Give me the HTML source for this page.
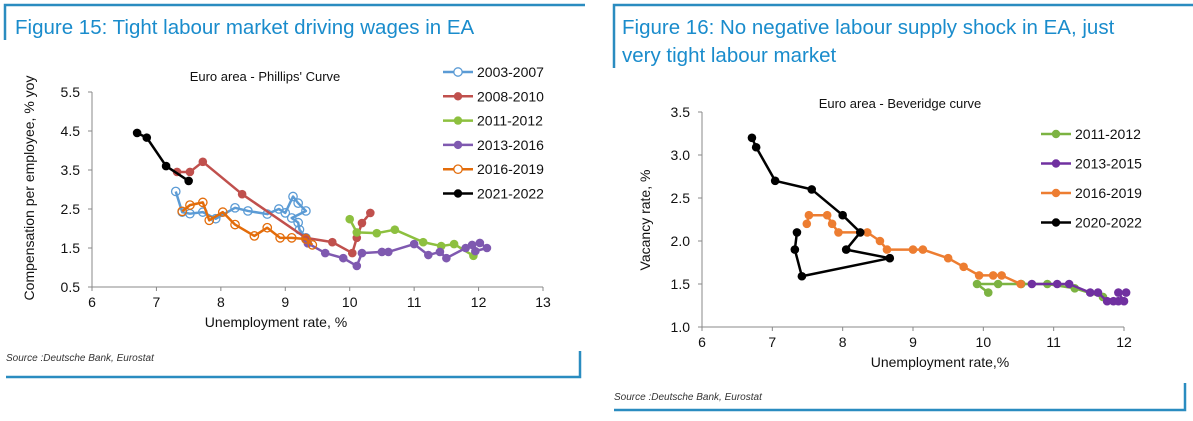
<!DOCTYPE html>
<html><head><meta charset="utf-8">
<style>
html,body{margin:0;padding:0;background:#fff;width:1193px;height:421px;overflow:hidden;font-family:"Liberation Sans",sans-serif}
svg text{font-family:"Liberation Sans",sans-serif}
</style></head><body>
<svg id="svg" width="1193" height="421" xmlns="http://www.w3.org/2000/svg">
  <g stroke="#2a8cc0" fill="none">
    <path d="M5,40 V5 H585" stroke-width="2.5"/>
    <path d="M614,68 V5 H1193" stroke-width="2.5"/>
    <path d="M6,377 H580 V351" stroke-width="2.5"/>
    <path d="M614,410 H1185 V383" stroke-width="2.5"/>
  </g>
  <text x="15" y="34" font-size="20.5" fill="#1a8ccc">Figure 15: Tight labour market driving wages in EA</text>
  <text x="622" y="34" font-size="20.5" fill="#1a8ccc">Figure 16: No negative labour supply shock in EA, just</text>
  <text x="622" y="62" font-size="20.5" fill="#1a8ccc">very tight labour market</text>
  <text x="6" y="361" font-size="10" font-style="italic" fill="#333">Source :Deutsche Bank, Eurostat</text>
  <text x="614" y="400" font-size="10" font-style="italic" fill="#333">Source :Deutsche Bank, Eurostat</text>
  <g id="c1"></g>
  <g id="c2"></g>
</svg>
<script>
// ---- Chart 1: Phillips curve ----
const c1XTicks = [6,7,8,9,10,11,12,13];
const c1YTicks = [0.5,1.5,2.5,3.5,4.5,5.5];
const c1Names = ["2003-2007","2008-2010","2011-2012","2013-2016","2016-2019","2021-2022"];
const s0307X = [7.3,7.4,7.52,7.72,7.92,8.22,8.42,8.72,8.9,9.0,9.12,9.2,9.32,9.1,9.2,9.22,9.32];
const s0307Y = [2.95,2.42,2.38,2.42,2.25,2.53,2.45,2.37,2.5,2.4,2.82,2.65,2.45,2.27,2.15,1.97,1.76];
const s0810X = [7.32,7.52,7.72,8.33,9.32,9.73,10.04,10.11,10.19,10.32];
const s0810Y = [3.45,3.45,3.71,2.88,1.76,1.65,1.37,1.76,2.14,2.4];
const s1112X = [10.0,10.11,10.42,10.7,11.14,11.42,11.62,11.92];
const s1112Y = [2.24,1.9,1.88,1.97,1.65,1.55,1.6,1.3];
const s1316X = [9.35,9.62,9.9,10.11,10.19,10.5,10.6,11.0,11.22,11.4,11.5,11.8,11.9,12.02,12.13,11.95];
const s1316Y = [1.62,1.37,1.24,1.04,1.37,1.4,1.4,1.6,1.32,1.4,1.24,1.5,1.58,1.63,1.5,1.42];
const s1619X = [7.4,7.52,7.72,7.82,8.03,8.22,8.52,8.72,8.92,9.1,9.32,9.42];
const s1619Y = [2.44,2.6,2.67,2.21,2.42,2.1,1.81,2.02,1.76,1.76,1.73,1.58];
const s2122X = [6.7,6.85,7.15,7.5];
const s2122Y = [4.45,4.33,3.6,3.22];

// ---- Chart 2: Beveridge curve ----
const c2XTicks = [6,7,8,9,10,11,12];
const c2YTicks = [1.0,1.5,2.0,2.5,3.0,3.5];
const c2Names = ["2011-2012","2013-2015","2016-2019","2020-2022"];
const b1112X = [10.07,9.91,10.21,10.54,10.91,11.3,11.7];
const b1112Y = [1.4,1.5,1.5,1.5,1.5,1.45,1.35];
const b1315X = [10.69,11.05,11.22,11.52,11.63,11.76,11.85,11.92,12.0,11.92,12.03];
const b1315Y = [1.5,1.5,1.5,1.4,1.4,1.3,1.3,1.3,1.3,1.4,1.4];
const b1619X = [7.49,7.52,7.78,7.85,7.94,8.35,8.53,8.63,9.0,9.14,9.5,9.72,9.94,10.14,10.26,10.53];
const b1619Y = [2.2,2.3,2.3,2.2,2.1,2.1,2.0,1.9,1.9,1.9,1.8,1.7,1.6,1.6,1.6,1.5];
const b2022X = [6.71,6.77,7.04,7.56,8.0,8.25,8.05,8.67,7.42,7.32,7.35];
const b2022Y = [3.2,3.09,2.7,2.6,2.3,2.1,1.9,1.8,1.59,1.9,2.1];

const NS="http://www.w3.org/2000/svg";
function mk(parent,tag,attrs){const e=document.createElementNS(NS,tag);for(const k in attrs)e.setAttribute(k,attrs[k]);parent.appendChild(e);return e;}

function drawChart(g, cfg){
  const sx=v=>cfg.x0+(v-cfg.xmin)/(cfg.xmax-cfg.xmin)*(cfg.x1-cfg.x0);
  const sy=v=>cfg.y0-(v-cfg.ymin)/(cfg.ymax-cfg.ymin)*(cfg.y0-cfg.y1);
  const ax=mk(g,'path',{d:`M${cfg.x0},${cfg.y1} V${cfg.y0} H${cfg.x1}`,stroke:'#888',fill:'none','stroke-width':1});
  
  
  cfg.xt.forEach(v=>{
    const t=mk(g,'line',{x1:sx(v),x2:sx(v),y1:cfg.y0,y2:cfg.y0+4,stroke:'#888'});
    
    
    const l=mk(g,'text',{x:sx(v),y:cfg.y0+20,'font-size':14,'text-anchor':'middle',fill:'#111'});
    l.textContent=v;
    
    
  });
  cfg.yt.forEach(v=>{
    const t=mk(g,'line',{x1:cfg.x0-4,x2:cfg.x0,y1:sy(v),y2:sy(v),stroke:'#888'});
    
    
    const l=mk(g,'text',{x:cfg.x0-12,y:sy(v)+5,'font-size':14,'text-anchor':'end',fill:'#111'});
    l.textContent=v.toFixed(1);
    
    
  });
  const xt=mk(g,'text',{x:cfg.xtx,y:cfg.y0+40,'font-size':14,'text-anchor':'middle',fill:'#111'});
  xt.textContent=cfg.xtitle;
  
  
  const yt=mk(g,'text',{x:0,y:0,'font-size':14,'text-anchor':'middle',fill:'#111',transform:`translate(${cfg.ytx},${cfg.yty}) rotate(-90)`});
  yt.textContent=cfg.ytitle;
  
  
  const ct=mk(g,'text',{x:cfg.ctx,y:cfg.cty,'font-size':13,'text-anchor':'middle',fill:'#111'});
  ct.textContent=cfg.ctitle;
  
  
  cfg.series.forEach((s,i)=>{
    const sg=mk(g,'g',{});
    
    
    const pts=s.x.map((v,j)=>sx(v)+','+sy(s.y[j])).join(' ');
    const pl=mk(sg,'polyline',{points:pts,fill:'none',stroke:s.c,'stroke-width':2.5,'stroke-linejoin':'round'});
    
    
    s.x.forEach((v,j)=>{
      const p=mk(sg,'circle',{cx:sx(v),cy:sy(s.y[j]),r:s.hollow?4.2:4.3,fill:s.hollow?'none':s.c,stroke:s.c,'stroke-width':s.hollow?1.3:0});
      
      
    });
    // legend
    const ly=cfg.ly+i*cfg.lstep;
    const le=mk(g,'g',{});
    
    
    mk(le,'line',{x1:cfg.lx,x2:cfg.lx+30,y1:ly,y2:ly,stroke:s.c,'stroke-width':2.5});
    mk(le,'circle',{cx:cfg.lx+15,cy:ly,r:4.2,fill:s.hollow?'#fff':s.c,stroke:s.c,'stroke-width':s.hollow?1.3:0});
    const lt=mk(le,'text',{x:cfg.lx+34,y:ly+5,'font-size':14,fill:'#111'});
    lt.textContent=s.name;
  });
}

drawChart(document.getElementById('c1'),{
  x0:92,x1:543,xmin:6,xmax:13,y0:287,y1:92,ymin:0.5,ymax:5.5,
  xt:c1XTicks,yt:c1YTicks,xtitle:'Unemployment rate, %',xtx:276,
  ytitle:'Compensation per employee, % yoy',ytx:34,yty:188,
  ctitle:"Euro area - Phillips' Curve",ctx:265,cty:81,
  lx:443,ly:72,lstep:24.3,
  series:[
    {name:c1Names[0],x:s0307X,y:s0307Y,c:'#5b9bd5',hollow:true},
    {name:c1Names[1],x:s0810X,y:s0810Y,c:'#c0504d'},
    {name:c1Names[2],x:s1112X,y:s1112Y,c:'#8dc03f'},
    {name:c1Names[3],x:s1316X,y:s1316Y,c:'#7f59b0'},
    {name:c1Names[4],x:s1619X,y:s1619Y,c:'#e36c0a',hollow:true},
    {name:c1Names[5],x:s2122X,y:s2122Y,c:'#000'}
  ]
});
drawChart(document.getElementById('c2'),{
  x0:702,x1:1124,xmin:6,xmax:12,y0:327,y1:112,ymin:1.0,ymax:3.5,
  xt:c2XTicks,yt:c2YTicks,xtitle:'Unemployment rate,%',xtx:940,
  ytitle:'Vacancy rate, %',ytx:650,yty:220,
  ctitle:'Euro area - Beveridge curve',ctx:900,cty:108,
  lx:1041,ly:134,lstep:29.5,
  series:[
    {name:c2Names[0],x:b1112X,y:b1112Y,c:'#7cb342'},
    {name:c2Names[1],x:b1315X,y:b1315Y,c:'#7030a0'},
    {name:c2Names[2],x:b1619X,y:b1619Y,c:'#ed7d31'},
    {name:c2Names[3],x:b2022X,y:b2022Y,c:'#000'}
  ]
});
</script>
</body></html>
